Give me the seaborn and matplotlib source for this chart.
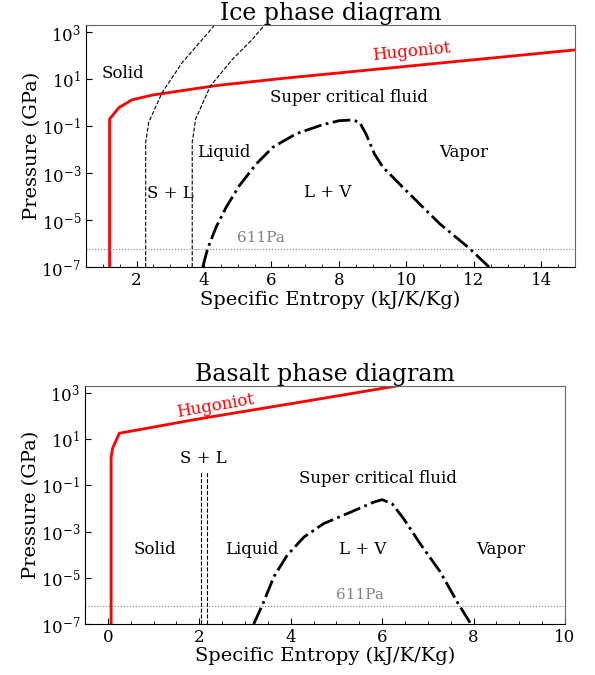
import numpy as np
import pandas as pd
import matplotlib
matplotlib.use("Agg")
import matplotlib.pyplot as plt
import seaborn as sns
from matplotlib.ticker import MultipleLocator, FixedLocator, NullLocator

# ---------------- data: Ice ----------------
ice_hug_s = [1.2, 1.2, 1.48, 1.87, 2.47, 3.45, 4.44, 6.41, 15.0]
ice_hug_p = [1e-7, 0.2, 0.62, 1.32, 2.1, 3.4, 5.5, 11.0, 175.0]
ice_sl1_s = [2.27, 2.27, 2.36, 2.76, 3.35, 3.95, 4.29]
ice_sl1_p = [1e-7, 0.02, 0.145, 2.7, 50.0, 490.0, 1800.0]
ice_sl2_s = [3.65, 3.65, 3.75, 4.19, 4.84, 5.43, 5.77]
ice_sl2_p = [1e-7, 0.02, 0.2, 5.1, 69.0, 490.0, 1800.0]
ice_dome_s = [3.96, 4.11, 4.36, 4.66, 5.05, 5.55, 6.04, 6.73, 7.52, 8.01, 8.41, 8.61, 8.8, 9.05,
              9.3, 9.89, 10.98, 11.87, 12.45]
ice_dome_p = [1e-7, 6.2e-7, 5.1e-6, 3.6e-5, 2.95e-4, 2.45e-3, 1.26e-2, 4.7e-2, 0.115, 0.17, 0.182,
              0.145, 0.047, 6.6e-3, 1.8e-3, 2.5e-4, 7.1e-6, 6.2e-7, 1e-7]

# ---------------- data: Basalt ----------------
bas_hug_s = [0.07, 0.07, 0.10, 0.25, 2.0, 4.21, 6.5]
bas_hug_p = [1e-7, 1.6, 3.9, 18.0, 76.0, 400.0, 2300.0]
bas_sl1_s = [2.03, 2.03]
bas_sl1_p = [1e-7, 0.37]
bas_sl2_s = [2.17, 2.17]
bas_sl2_p = [1e-7, 0.37]
bas_dome_s = [3.19, 3.38, 3.63, 3.92, 4.29, 4.72, 5.31, 5.81, 6.0, 6.22, 6.47, 6.83, 7.27, 7.64, 7.93]
bas_dome_p = [1e-7, 6.6e-7, 1.1e-5, 9.3e-5, 5.8e-4, 2.2e-3, 6.9e-3, 1.86e-2, 2.4e-2, 1.58e-2,
              3.6e-3, 3.0e-4, 1.8e-5, 9.1e-7, 1.07e-7]

triple_p = 6.11e-7  # 611 Pa in GPa

sns.set_style("ticks", rc={'text.color': 'black', 'axes.labelcolor': 'black',
                           'xtick.color': 'black', 'ytick.color': 'black',
                           'axes.edgecolor': 'black'})
plt.rcParams['font.family'] = ['DejaVu Serif']
plt.rcParams['mathtext.fontset'] = 'dejavuserif'

fig = plt.figure(figsize=(5.95, 6.75), dpi=100)
ax1 = fig.add_axes([0.1445, 0.6044, 0.822, 0.3585])
ax2 = fig.add_axes([0.1429, 0.0756, 0.8067, 0.3526])

def draw(ax, hug_s, hug_p, sl1, sl2, dome, xlim):
    df = pd.DataFrame({'s': hug_s, 'p': hug_p})
    sns.lineplot(data=df, x='s', y='p', sort=False, estimator=None, ax=ax, color='red', lw=2)
    for (s, p) in (sl1, sl2):
        sns.lineplot(x=s, y=p, sort=False, estimator=None, ax=ax, color='black', lw=0.8, linestyle='--')
    sns.lineplot(x=dome[0], y=dome[1], sort=False, estimator=None, ax=ax, color='black', lw=2, linestyle='-.')
    ax.axhline(triple_p, color='gray', lw=0.8, linestyle=':')
    ax.set_yscale('log')
    ax.set_xlim(*xlim)
    ax.set_ylim(1e-7, 2000)
    ax.yaxis.set_major_locator(FixedLocator([1e-7, 1e-5, 1e-3, 1e-1, 1e1, 1e3]))
    ax.yaxis.set_minor_locator(NullLocator())
    ax.xaxis.set_major_locator(MultipleLocator(2))
    ax.xaxis.set_minor_locator(MultipleLocator(0.5))
    ax.tick_params(axis='both', which='both', direction='in', labelsize=12)
    ax.tick_params(axis='both', which='major', length=4)
    ax.tick_params(axis='both', which='minor', length=2)
    ax.set_xlabel('Specific Entropy (kJ/K/Kg)', fontsize=14, labelpad=1)
    ax.set_ylabel('Pressure (GPa)', fontsize=14, labelpad=0)
    for sp in ('top', 'right'):
        ax.spines[sp].set_visible(True)
        ax.spines[sp].set_color('#666666')
    for sp in ('left', 'bottom'):
        ax.spines[sp].set_color('black')

draw(ax1, ice_hug_s, ice_hug_p, (ice_sl1_s, ice_sl1_p), (ice_sl2_s, ice_sl2_p),
     (ice_dome_s, ice_dome_p), (0.5, 15))
ax1.set_title('Ice phase diagram', fontsize=17, pad=2)
tk = dict(fontsize=12, ha='center', va='center')
ax1.text(1.6, 18, 'Solid', **tk)
ax1.text(3.0, 1.4e-4, 'S + L', **tk)
ax1.text(4.58, 7.4e-3, 'Liquid', **tk)
ax1.text(8.3, 1.7, 'Super critical fluid', **tk)
ax1.text(7.66, 1.5e-4, 'L + V', **tk)
ax1.text(11.7, 7.4e-3, 'Vapor', **tk)
ax1.text(10.15, 140, 'Hugoniot', color='red', rotation=5.6, **tk)
ax1.text(5.7, 8.5e-7, '611Pa', color='gray', fontsize=11, ha='center', va='bottom')

draw(ax2, bas_hug_s, bas_hug_p, (bas_sl1_s, bas_sl1_p), (bas_sl2_s, bas_sl2_p),
     (bas_dome_s, bas_dome_p), (-0.5, 10))
ax2.set_title('Basalt phase diagram', fontsize=17, pad=2)
ax2.text(2.08, 1.45, 'S + L', **tk)
ax2.text(1.02, 1.7e-4, 'Solid', **tk)
ax2.text(3.15, 1.7e-4, 'Liquid', **tk)
ax2.text(5.9, 0.195, 'Super critical fluid', **tk)
ax2.text(5.58, 1.7e-4, 'L + V', **tk)
ax2.text(8.6, 1.7e-4, 'Vapor', **tk)
ax2.text(2.36, 275, 'Hugoniot', color='red', rotation=9.8, **tk)
ax2.text(5.52, 8.5e-7, '611Pa', color='gray', fontsize=11, ha='center', va='bottom')

fig.savefig('out.png', dpi=100)
